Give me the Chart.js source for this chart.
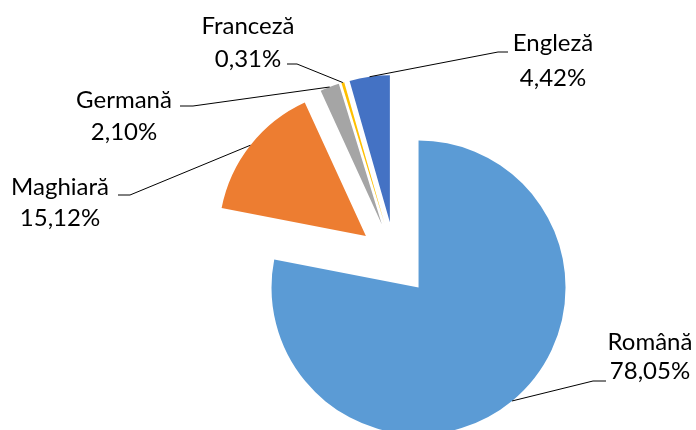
<!DOCTYPE html>
<html>
<head>
<meta charset="utf-8">
<script src="https://cdn.jsdelivr.net/npm/chart.js@4.4.0/dist/chart.umd.min.js"></script>
<style>
  html, body { margin: 0; padding: 0; background: #fff; }
  #wrap { width: 696px; height: 430px; }
</style>
</head>
<body>
<div id="wrap"><canvas id="chart-1" width="696" height="430"></canvas></div>
<script>
const languages = ["Română", "Maghiară", "Germană", "Franceză", "Engleză"];
const shares = [78.05, 15.12, 2.10, 0.31, 4.42];
const sliceColors = ["#5B9BD5", "#ED7D31", "#A5A5A5", "#FFC000", "#4472C4"];

// label text centre, the two line heights and the elbow of each leader line
const labelPos = [
  { x: 650, y1: 342, y2: 371, lx1: 606, lx2: 593, ly: 381 },
  { x: 60, y1: 187, y2: 218, lx1: 118, lx2: 130, ly: 195 },
  { x: 124, y1: 100, y2: 132, lx1: 180, lx2: 193, ly: 106 },
  { x: 248, y1: 26, y2: 59, lx1: 287, lx2: 297, ly: 64 },
  { x: 553, y1: 43, y2: 78, lx1: 508, lx2: 498, ly: 52 },
];
const explode = 37;

// push every slice out along its mid angle (plain move, no resize)
const explodePlugin = {
  id: "explode",
  afterDatasetsUpdate(chart) {
    chart.getDatasetMeta(0).data.forEach((arc) => {
      const mid = (arc.startAngle + arc.endAngle) / 2;
      arc.x += Math.cos(mid) * explode;
      arc.y += Math.sin(mid) * explode;
    });
  },
};

const labelPlugin = {
  id: "sliceLabels",
  afterDraw(chart) {
    const ctx = chart.ctx;
    const arcs = chart.getDatasetMeta(0).data;
    ctx.save();
    ctx.font = "24px Lato";
    ctx.fillStyle = "#000";
    ctx.strokeStyle = "#000";
    ctx.lineWidth = 1;
    ctx.textAlign = "center";
    ctx.textBaseline = "middle";
    arcs.forEach((arc, i) => {
      const p = labelPos[i];
      const mid = (arc.startAngle + arc.endAngle) / 2;
      const ex = arc.x + Math.cos(mid) * arc.outerRadius;
      const ey = arc.y + Math.sin(mid) * arc.outerRadius;
      ctx.beginPath();
      ctx.moveTo(p.lx1, p.ly);
      ctx.lineTo(p.lx2, p.ly);
      ctx.lineTo(ex, ey);
      ctx.stroke();
      ctx.fillText(languages[i], p.x, p.y1);
      ctx.fillText(shares[i].toFixed(2).replace(".", ",") + "%", p.x, p.y2);
    });
    ctx.restore();
  },
};

new Chart(document.getElementById("chart-1"), {
  type: "pie",
  data: {
    labels: languages,
    datasets: [
      {
        data: shares,
        backgroundColor: sliceColors,
        borderWidth: 0,
      },
    ],
  },
  options: {
    responsive: false,
    animation: false,
    events: [],
    radius: 147,
    layout: { padding: { left: 94, top: 88, right: 0, bottom: 0 } },
    plugins: {
      legend: { display: false },
      tooltip: { enabled: false },
    },
  },
  plugins: [explodePlugin, labelPlugin],
});
</script>
</body>
</html>
